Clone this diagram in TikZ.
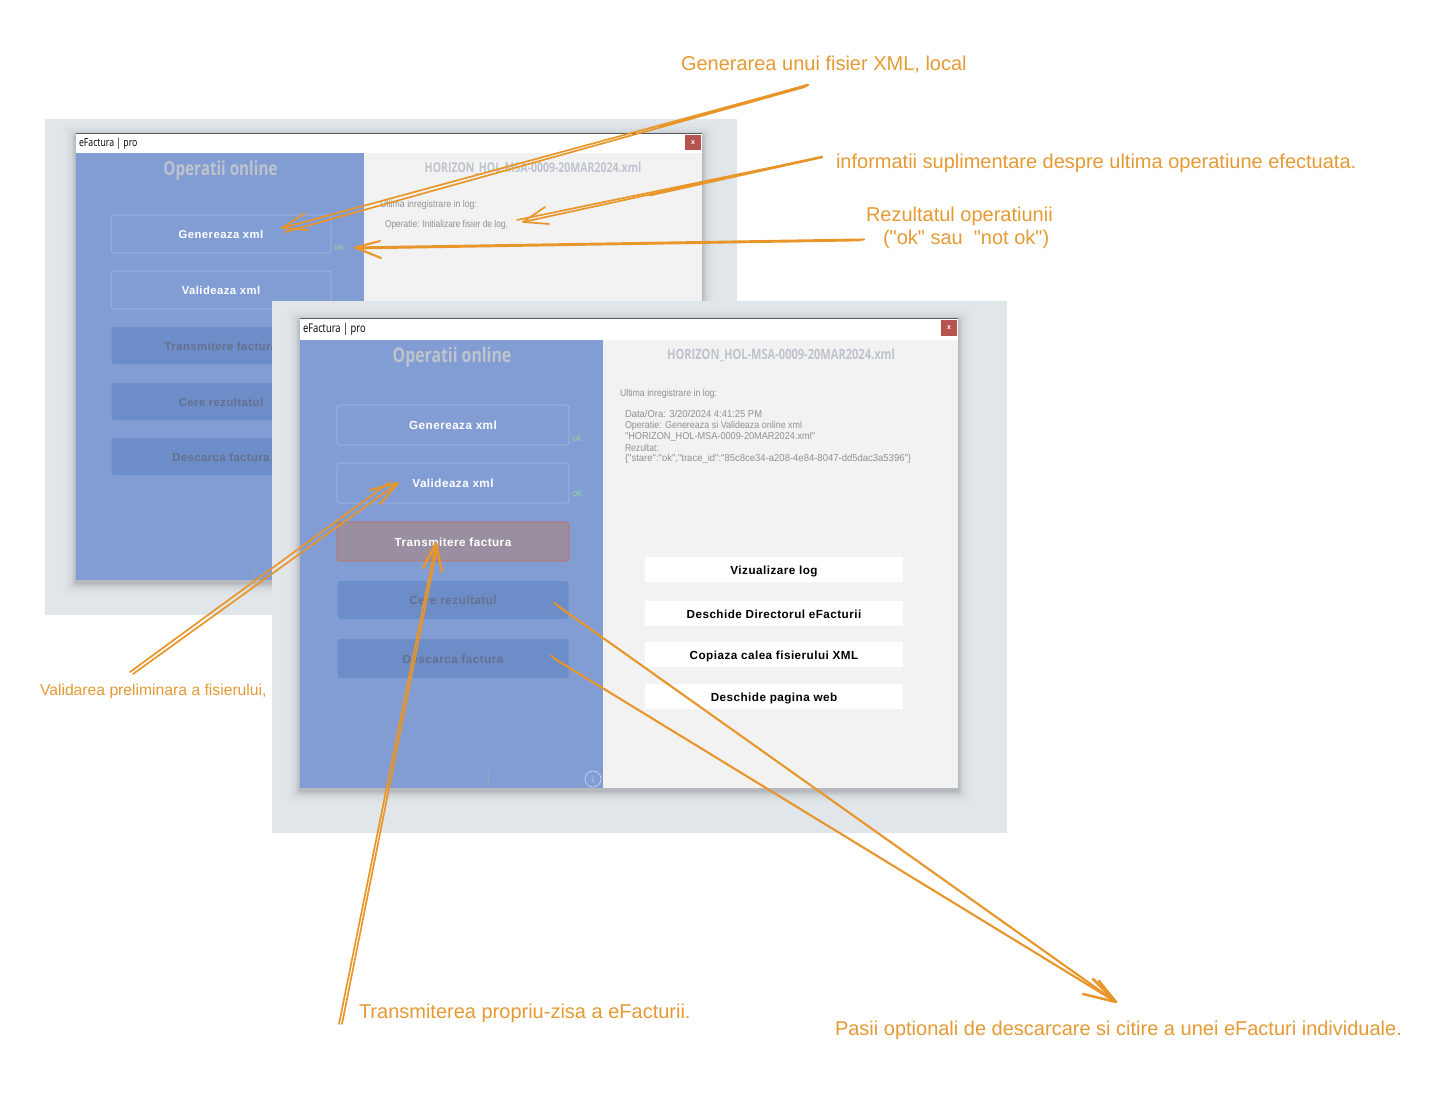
\documentclass[tikz,border=0pt]{standalone}
\usepackage{graphicx}
\usepackage{fontspec}
\setmainfont{Liberation Sans}
\newfontfamily\plainfont{Liberation Sans}
\newfontfamily\condfont[FakeStretch=0.78]{Open Sans}
\newfontfamily\logfont[FakeStretch=0.86]{Liberation Sans}
\newfontfamily\btnfont[LetterSpace=4]{Liberation Sans}
\newcommand{\logw}[2]{\scalebox{#1}[1]{#2}}
\definecolor{orangeink}{HTML}{E8962A}
\definecolor{orangetxt}{HTML}{E59A34}
\definecolor{framebg}{HTML}{E1E6EA}
\definecolor{panelblue}{HTML}{819DD4}
\definecolor{dimblue}{HTML}{6D8DC8}
\definecolor{dimtext}{HTML}{66708E}
\definecolor{rightpanel}{HTML}{F2F2F2}
\definecolor{closered}{HTML}{B85450}
\definecolor{activebtn}{HTML}{9A8FA0}
\definecolor{activeedge}{HTML}{C9695F}
\definecolor{okgreen}{HTML}{93D69A}
\definecolor{titlegrey}{HTML}{BEC3CC}
\definecolor{loggrey}{HTML}{8F9194}
\definecolor{tickgrey}{HTML}{9AA3B8}
\tikzset{
  every node/.style={inner sep=0pt,outer sep=0pt},
  framebox/.style={fill=framebg,draw=none},
  winpanel/.style={fill=panelblue,draw=none},
  winright/.style={fill=rightpanel,draw=none},
  winbar/.style={fill=white,draw=none},
  btnbase/.style={rectangle,align=center,text height=9pt,text depth=0pt},
  btnsmall/.style={font=\btnfont\bfseries\fontsize{11.3}{13}\selectfont},
  btnlarge/.style={font=\btnfont\bfseries\fontsize{11.7}{13}\selectfont},
  litebtn/.style={btnbase,rounded corners=3pt,draw=white!30!panelblue,line width=.7pt,fill=panelblue,text=white},
  dimbtn/.style={btnbase,rounded corners=3pt,fill=dimblue,text=dimtext},
  activebtnst/.style={btnbase,rounded corners=3pt,draw=activeedge,line width=.8pt,fill=activebtn,text=white},
  whitebtn/.style={btnbase,fill=white,text=black,btnlarge},
  oklabel/.style={text=okgreen,font=\fontsize{9}{10}\selectfont},
  filetitle/.style={text=titlegrey},
  logline/.style={text=loggrey,anchor=west,font=\logfont\fontsize{10}{11}\selectfont},
  closebtn/.style={fill=closered,text=white,font=\bfseries\fontsize{7}{8}\selectfont},
  callout/.style={text=orangetxt,anchor=west,font=\fontsize{20}{24}\selectfont},
  calloutsmall/.style={text=orangetxt,anchor=west,font=\fontsize{15.7}{19}\selectfont},
  ink/.style={draw=orangeink,line width=1.7pt,line cap=round,line join=round},
  inkmid/.style={draw=orangeink,line width=2.1pt,line cap=round,line join=round},
  inkthick/.style={draw=orangeink,line width=2.5pt,line cap=round,line join=round},
}
\newcommand{\softshadow}[4]{%
  \foreach \d/\o in {13/.006,11/.008,9/.01,7/.015,5/.02,4/.025,3/.03,2/.035,1/.04}{
    \fill[black,opacity=\o,rounded corners=3pt] (#1-\d,#2-\d+3) rectangle (#3+\d,#4+\d+3);
  }%
}
\begin{document}
\begin{tikzpicture}[x=1pt,y=-1pt]
\useasboundingbox (0,0) rectangle (1434,1092);
\fill[white] (0,0) rectangle (1434,1092);

%%% back window
\fill[framebox] (45,119) rectangle (737,615);
\softshadow{76}{133}{702}{580}
\fill[winbar] (76,133) rectangle (702,153);
\draw[black!65,line width=1pt] (76,133) -- (702,133);
\fill[winpanel] (76,153) rectangle (364,580);
\fill[winright] (364,153) rectangle (702,580);
\draw[tickgrey,line width=.6pt] (254,563) -- (254,580);
\node[anchor=west,font=\condfont\fontsize{11.2}{12}\selectfont] (t1) at (79,143.5) {eFactura | pro};
\node[closebtn,minimum width=16pt,minimum height=15pt] (x1) at (693,142.5) {x};
\node[text=titlegrey,font=\condfont\bfseries\fontsize{19.5}{22}\selectfont] (h1) at (220.5,170) {Operatii online};
\node[filetitle,font=\condfont\bfseries\fontsize{13.5}{16}\selectfont] (f1) at (533,168) {HORIZON\_HOL-MSA-0009-20MAR2024.xml};
\node[logline] (l1a) at (380,205) {\logw{1.02}{Ultima inregistrare in log:}};
\node[logline] (l1b) at (385,225) {\logw{.976}{Operatie: Initializare fisier de log.}};
\node[litebtn,btnsmall,minimum width=220pt,minimum height=38pt] (b1a) at (221,234) {Genereaza xml};
\node[litebtn,btnsmall,minimum width=220pt,minimum height=38pt] (b1b) at (221,290) {Valideaza xml};
\node[dimbtn,btnsmall,minimum width=219pt,minimum height=37pt] (b1c) at (221,345.5) {Transmitere factura};
\node[dimbtn,btnsmall,minimum width=219pt,minimum height=37pt] (b1d) at (221,401.5) {Cere rezultatul};
\node[dimbtn,btnsmall,minimum width=219pt,minimum height=37pt] (b1e) at (221,456.5) {Descarca factura};
\node[oklabel] (ok1) at (339,247) {ok};

%%% front window
\fill[framebox] (272,301) rectangle (1007,833);
\softshadow{300}{318}{958}{788}
\fill[winbar] (300,318) rectangle (958,340);
\draw[black!65,line width=1pt] (300,318) -- (958,318);
\fill[winpanel] (300,340) rectangle (603,788);
\fill[winright] (603,340) rectangle (958,788);
\draw[tickgrey,line width=.6pt] (488,771) -- (488,787);
\node[anchor=west,font=\condfont\fontsize{12}{13}\selectfont] (t2) at (303,329) {eFactura | pro};
\node[closebtn,minimum width=16pt,minimum height=16pt] (x2) at (949,328) {x};
\node[text=titlegrey,font=\condfont\bfseries\fontsize{20.3}{22}\selectfont] (h2) at (452,357.5) {Operatii online};
\node[filetitle,font=\condfont\bfseries\fontsize{14.2}{16}\selectfont] (f2) at (781,355) {HORIZON\_HOL-MSA-0009-20MAR2024.xml};
\node[logline] (l2a) at (620,394) {\logw{1.02}{Ultima inregistrare in log:}};
\node[logline] (l2b) at (625,414) {\logw{1.096}{Data/Ora: 3/20/2024 4:41:25 PM}};
\node[logline] (l2c) at (625,425.5) {\logw{1.04}{Operatie: Genereaza si Valideaza online xml}};
\node[logline] (l2d) at (625,436.5) {\logw{1.067}{"HORIZON\_HOL-MSA-0009-20MAR2024.xml"}};
\node[logline] (l2e) at (625,448) {Rezultat:};
\node[logline] (l2f) at (625,459) {\logw{1.104}{\{"stare":"ok","trace\_id":"85c8ce34-a208-4e84-8047-dd5dac3a5396"\}}};
\node[litebtn,btnlarge,minimum width=232pt,minimum height=40pt] (b2a) at (453,425) {Genereaza xml};
\node[litebtn,btnlarge,minimum width=232pt,minimum height=40pt] (b2b) at (453,483) {Valideaza xml};
\node[activebtnst,btnlarge,minimum width=232pt,minimum height=39pt] (b2c) at (453,541.5) {Transmitere factura};
\node[dimbtn,btnlarge,minimum width=231pt,minimum height=38pt] (b2d) at (453,600) {Cere rezultatul};
\node[dimbtn,btnlarge,minimum width=231pt,minimum height=39pt] (b2e) at (453,658.5) {Descarca factura};
\node[oklabel] (ok2a) at (577,438) {ok};
\node[oklabel] (ok2b) at (577,493) {ok};
\node[whitebtn,minimum width=258pt,minimum height=25pt] (w1) at (774,569.5) {Vizualizare log};
\node[whitebtn,minimum width=258pt,minimum height=25pt] (w2) at (774,613.5) {Deschide Directorul eFacturii};
\node[whitebtn,minimum width=258pt,minimum height=25pt] (w3) at (774,654.5) {Copiaza calea fisierului XML};
\node[whitebtn,minimum width=258pt,minimum height=25pt] (w4) at (774,696.5) {Deschide pagina web};
\node[circle,draw=white!55!panelblue,line width=.7pt,minimum size=16pt,text=white!55!panelblue,font=\fontsize{9}{10}\selectfont] (info) at (593,779) {i};

%%% callout labels
\node[callout] (c1) at (681,65) {Generarea unui fisier XML, local};
\node[callout] (c2) at (836,163) {informatii suplimentare despre ultima operatiune efectuata.};
\node[callout] (c3a) at (866,216) {Rezultatul operatiunii};
\node[callout] (c3b) at (883,239) {\plainfont ("ok" sau~~"not ok")};
\node[calloutsmall] (c4) at (40,691.5) {Validarea preliminara a fisierului,};
\node[callout] (c5) at (359,1013) {Transmiterea propriu-zisa a eFacturii.};
\node[callout] (c6) at (835,1030) {Pasii optionali de descarcare si citire a unei eFacturi individuale.};

%%% hand-drawn arrows
\coordinate (a1s) at (808,85);
\coordinate (a1m) at (660,127);
\coordinate (a1t) at (282,228);
\draw[ink] (a1s) -- (a1t);
\draw[ink] (805,87) -- (285,232);
\draw[inkthick] (a1s) -- (a1m);
\draw[ink] (305,213) -- (a1t) -- (308,230);

\coordinate (a2s) at (822,157);
\coordinate (a2m) at (650,195);
\coordinate (a2t) at (523,222);
\draw[ink] (a2s) -- (517,220);
\draw[ink] (818,158) -- (a2t);
\draw[inkthick] (a2s) -- (a2m);
\draw[ink] (545,207) -- (a2t) -- (549,224);

\coordinate (a3s) at (864,239.5);
\coordinate (a3t) at (355,247.5);
\draw[inkmid] (a3s) -- (a3t);
\draw[ink] (860,240.5) -- (360,248.5);
\draw[inkmid] (380,241) -- (a3t) -- (381,258);

\coordinate (a4s) at (133,674);
\coordinate (a4t) at (398,483);
\draw[ink] (a4s) -- (a4t);
\draw[ink] (130,672) -- (390,482);
\draw[inkmid] (370,490) -- (a4t) -- (380,504);

\coordinate (a5s) at (339,1024);
\coordinate (a5t) at (436,543);
\draw[ink] (a5s) -- (a5t);
\draw[ink] (342,1024) -- (437,548);
\draw[inkthick] (423,568) -- (a5t) -- (442,572);

\coordinate (a6t) at (1116,1002);
\coordinate (a6a) at (558,606);
\coordinate (a6b) at (555,659);
\draw[inkmid] (a6a) -- (a6t);
\draw[ink] (554,602.5) -- (a6a);
\draw[inkmid] (a6b) -- (a6t);
\draw[ink] (551,655.5) -- (a6b);
\draw[inkthick] (1083,994) -- (a6t) -- (1093,979);
\draw[inkthick] (a6t) -- (1099,981);
\end{tikzpicture}
\end{document}
